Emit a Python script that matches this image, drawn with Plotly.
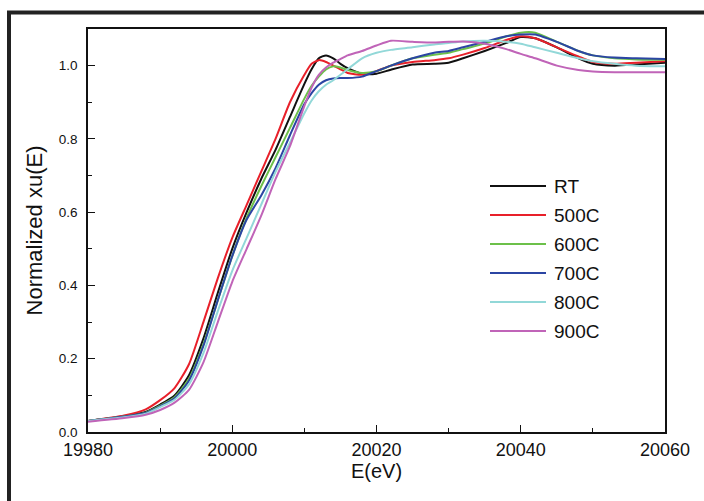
import plotly.graph_objects as go

energy = [19980, 19985, 19988, 19990, 19992, 19994, 19996, 19998, 20000, 20002,
          20004, 20006, 20008, 20010, 20011, 20012, 20013, 20014, 20015, 20016,
          20018, 20020, 20022, 20025, 20028, 20030, 20032, 20035, 20038, 20040,
          20042, 20045, 20048, 20050, 20053, 20056, 20060]

rt = [0.030, 0.043, 0.055, 0.075, 0.100, 0.155, 0.255, 0.380, 0.500, 0.600,
      0.690, 0.770, 0.860, 0.950, 0.990, 1.020, 1.028, 1.020, 1.005, 0.993,
      0.978, 0.978, 0.989, 1.003, 1.005, 1.008, 1.020, 1.040, 1.062, 1.078,
      1.075, 1.050, 1.020, 1.005, 1.000, 1.003, 1.008]
c500 = [0.030, 0.045, 0.062, 0.087, 0.120, 0.185, 0.300, 0.420, 0.530, 0.620,
        0.710, 0.800, 0.900, 0.975, 1.005, 1.015, 1.010, 1.000, 0.990, 0.980,
        0.975, 0.985, 1.000, 1.010, 1.015, 1.020, 1.030, 1.048, 1.070, 1.080,
        1.075, 1.050, 1.025, 1.010, 1.005, 1.008, 1.012]
c600 = [0.030, 0.042, 0.053, 0.072, 0.095, 0.145, 0.240, 0.360, 0.480, 0.585,
        0.670, 0.750, 0.830, 0.910, 0.945, 0.970, 0.990, 0.998, 0.995, 0.988,
        0.980, 0.985, 1.000, 1.020, 1.030, 1.035, 1.045, 1.060, 1.080, 1.090,
        1.090, 1.065, 1.040, 1.028, 1.020, 1.017, 1.016]
c700 = [0.030, 0.042, 0.052, 0.070, 0.092, 0.140, 0.235, 0.360, 0.480, 0.580,
        0.645, 0.720, 0.810, 0.895, 0.925, 0.948, 0.960, 0.965, 0.966, 0.966,
        0.970, 0.985, 1.000, 1.020, 1.035, 1.040, 1.050, 1.065, 1.080, 1.085,
        1.085, 1.065, 1.040, 1.028, 1.022, 1.020, 1.018]
c800 = [0.030, 0.040, 0.050, 0.068, 0.088, 0.130, 0.215, 0.330, 0.440, 0.530,
        0.620, 0.710, 0.790, 0.870, 0.905, 0.930, 0.948, 0.960, 0.975, 0.990,
        1.020, 1.035, 1.043, 1.050, 1.058, 1.062, 1.066, 1.068, 1.065, 1.060,
        1.050, 1.035, 1.020, 1.012, 1.005, 1.000, 0.998]
c900 = [0.028, 0.038, 0.047, 0.060, 0.080, 0.115, 0.190, 0.300, 0.410, 0.500,
        0.590, 0.690, 0.780, 0.890, 0.940, 0.975, 0.995, 1.008, 1.018, 1.028,
        1.040, 1.055, 1.068, 1.065, 1.063, 1.065, 1.066, 1.060, 1.045, 1.032,
        1.020, 1.000, 0.988, 0.984, 0.982, 0.982, 0.982]

names = ["RT", "500C", "600C", "700C", "800C", "900C"]
series = [rt, c500, c600, c700, c800, c900]
colors = ["#111111", "#e8202a", "#6cc04a", "#2b45a3", "#92d8d8", "#c064b8"]

x_ticks = [19980, 20000, 20020, 20040, 20060]
y_ticks = [0.0, 0.2, 0.4, 0.6, 0.8, 1.0]

FONT = "Liberation Sans, Arial, sans-serif"

fig = go.Figure()
for n, s, c in zip(names, series, colors):
    fig.add_trace(go.Scatter(x=energy, y=s, mode="lines", name=n,
                             line=dict(color=c, width=2, shape="spline", smoothing=0.6),
                             showlegend=False))

# custom legend
row0 = (432 - 186) / 403
step = 29 / 403
for i, (n, c) in enumerate(zip(names, colors)):
    yy = row0 - i * step
    fig.add_shape(type="line", xref="paper", yref="paper",
                  x0=(490 - 88) / 577, x1=(546 - 88) / 577, y0=yy, y1=yy,
                  line=dict(color=c, width=2))
    fig.add_annotation(xref="paper", yref="paper", x=(552 - 88) / 577, y=yy,
                       text=n, showarrow=False, xanchor="left", yanchor="middle",
                       font=dict(family=FONT, size=19, color="#111"))

# outer frame of the figure (extends past the right and bottom edges)
fig.add_shape(type="rect", xref="paper", yref="paper",
              x0=(9 - 88) / 577, x1=(740 - 88) / 577,
              y0=(432 - 540) / 403, y1=(432 - 12.5) / 403,
              line=dict(color="#222", width=4), fillcolor="rgba(0,0,0,0)", layer="below")

axis_common = dict(showline=True, linecolor="#111", linewidth=1.5, mirror=True,
                   ticks="inside", tickcolor="#111", showgrid=False, zeroline=False)

fig.update_layout(
    width=704, height=501,
    margin=dict(l=88, r=39, t=29, b=69),
    paper_bgcolor="white", plot_bgcolor="white",
    font=dict(family=FONT, color="#111"),
    xaxis=dict(range=[19980, 20060], tickvals=x_ticks, tickformat="d", ticklen=7, tickwidth=1.2,
               tickfont=dict(size=18), ticklabelstandoff=1,
               minor=dict(dtick=10, ticks="inside", ticklen=4, tickcolor="#111"),
               title=dict(text="E(eV)", font=dict(size=20), standoff=2),
               **axis_common),
    yaxis=dict(range=[0, 1.1], tickvals=y_ticks, tickformat=".1f", ticklen=7, tickwidth=1.2,
               tickfont=dict(size=13.5), ticklabelstandoff=6,
               minor=dict(dtick=0.1, ticks="inside", ticklen=4, tickcolor="#111"),
               title=dict(text="Normalized xu(E)", font=dict(size=22), standoff=10),
               **axis_common),
)

fig.write_html("out.html")
